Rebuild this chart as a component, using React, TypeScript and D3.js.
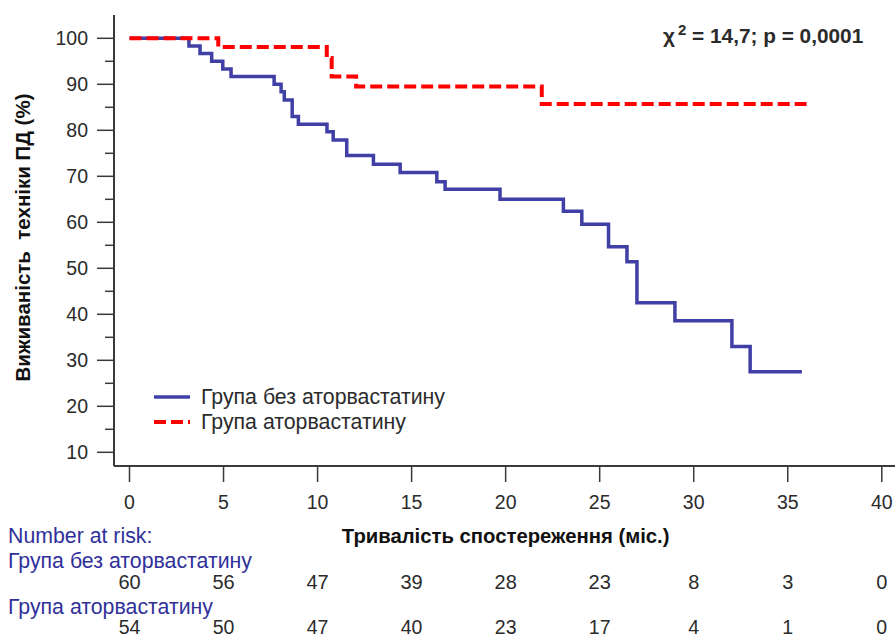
import React from 'react';
import * as d3 from 'd3';

const xTicks = [0, 5, 10, 15, 20, 25, 30, 35, 40];
const yTicks = [10, 20, 30, 40, 50, 60, 70, 80, 90, 100];
const yMinorTicks = [15, 25, 35, 45, 55, 65, 75, 85, 95];

const noAtorTimes = [0, 3.16, 3.75, 4.37, 4.96, 5.4, 7.69, 8.06, 8.23, 8.65, 8.98, 10.5, 10.83, 11.55, 12.97, 14.39, 16.34, 16.78, 19.7, 23.07, 24.05, 25.47, 26.45, 26.98, 29.0, 32.03, 33.0];
const noAtorSurv = [100, 98.3, 96.7, 95.0, 93.3, 91.7, 90.0, 88.4, 86.6, 83.0, 81.3, 79.7, 77.9, 74.5, 72.6, 70.8, 68.8, 67.2, 65.0, 62.4, 59.6, 54.7, 51.4, 42.5, 38.6, 33.0, 27.5];
const noAtorEnd = 35.75;

const atorTimes = [0, 4.72, 10.49, 10.75, 12.05, 21.92];
const atorSurv = [100, 98.1, 95.7, 91.7, 89.5, 85.7];
const atorEnd = 36.0;

const riskNoAtor = [60, 56, 47, 39, 28, 23, 8, 3, 0];
const riskAtor = [54, 50, 47, 40, 23, 17, 4, 1, 0];
const groupNames = ['Група без аторвастатину', 'Група аторвастатину'];

const W = 895;
const H = 637;
const FONT = '"Liberation Sans", Arial, sans-serif';
const BLUE = '#3f3fa6';
const RED = '#ff0000';
const AXIS = '#3a3a3a';
const TXT = '#2b2b2b';
const LABEL_BLUE = '#30309a';
const WORD = 21.3;
const NUM = 19.5;

export default function App() {
  const x = d3.scaleLinear().domain([0, 40]).range([129.5, 881.8]);
  const y = d3.scaleLinear().domain([10, 100]).range([452.3, 38.3]);
  const axisX = 114;
  const axisY = 466;

  const line = d3
    .line<[number, number]>()
    .x((d) => x(d[0]))
    .y((d) => y(d[1]))
    .curve(d3.curveStepAfter);

  const mk = (t: number[], s: number[], end: number): [number, number][] => {
    const pts: [number, number][] = t.map((tt, i) => [tt, s[i]]);
    pts.push([end, s[s.length - 1]]);
    return pts;
  };

  const bluePath = line(mk(noAtorTimes, noAtorSurv, noAtorEnd)) || '';
  const redPath = line(mk(atorTimes, atorSurv, atorEnd)) || '';

  return (
    <svg
      width={W}
      height={H}
      style={{ position: 'absolute', left: 0, top: 0, background: '#fff' }}
      fontFamily={FONT}
    >
      <rect width={W} height={H} fill="#fff" />
      {/* axes */}
      <line x1={axisX} x2={axisX} y1={15} y2={axisY} stroke={AXIS} strokeWidth={2} />
      <line x1={axisX} x2={W} y1={axisY} y2={axisY} stroke={AXIS} strokeWidth={2} />
      {yTicks.map((v) => (
        <g key={'yt' + v}>
          <line x1={97} x2={axisX} y1={y(v)} y2={y(v)} stroke={AXIS} strokeWidth={1.5} />
          <text x={88} y={y(v)} textAnchor="end" dominantBaseline="central" fontSize={NUM} fill={TXT}>
            {v}
          </text>
        </g>
      ))}
      {yMinorTicks.map((v) => (
        <line key={'ym' + v} x1={105} x2={axisX} y1={y(v)} y2={y(v)} stroke={AXIS} strokeWidth={1.5} />
      ))}
      {xTicks.map((v) => (
        <g key={'xt' + v}>
          <line x1={x(v)} x2={x(v)} y1={axisY} y2={482} stroke={AXIS} strokeWidth={1.5} />
          <text x={x(v)} y={502} textAnchor="middle" dominantBaseline="central" fontSize={NUM} fill={TXT}>
            {v}
          </text>
        </g>
      ))}

      {/* curves */}
      <path d={bluePath} fill="none" stroke={BLUE} strokeWidth={3.5} />
      <path d={redPath} fill="none" stroke={RED} strokeWidth={4} strokeDasharray="12,5" />

      {/* legend */}
      <line x1={154} x2={190} y1={397} y2={397} stroke={BLUE} strokeWidth={3.5} />
      <text x={201} y={397} dominantBaseline="central" fontSize={WORD} fill={TXT}>
        {groupNames[0]}
      </text>
      <line x1={154} x2={190} y1={422} y2={422} stroke={RED} strokeWidth={4} strokeDasharray="12,5" />
      <text x={201} y={422} dominantBaseline="central" fontSize={WORD} fill={TXT}>
        {groupNames[1]}
      </text>

      {/* chi-square */}
      <text x={663} y={43} fontSize={20.8} fontWeight="bold" fill={TXT}>
        χ
        <tspan dx={3} dy={-8} fontSize={15}>2</tspan>
        <tspan dy={8}>{'  = 14,7; p = 0,0001'}</tspan>
      </text>

      {/* y label */}
      <text
        transform={`translate(22,${237.5}) rotate(-90)`}
        textAnchor="middle"
        dominantBaseline="central"
        fontSize={20.5}
        fontWeight="bold"
        fill="#111"
        style={{ whiteSpace: 'pre' }}
      >
        {'Виживаність  техніки ПД (%)'}
      </text>

      {/* x label */}
      <text x={x(20)} y={536} textAnchor="middle" dominantBaseline="central" fontSize={20.3} fontWeight="bold" fill="#111">
        Тривалість спостереження (міс.)
      </text>

      {/* number at risk */}
      <text x={8} y={536} dominantBaseline="central" fontSize={WORD} fill={LABEL_BLUE}>
        Number at risk:
      </text>
      <text x={8} y={561} dominantBaseline="central" fontSize={WORD} fill={LABEL_BLUE}>
        {groupNames[0]}
      </text>
      {riskNoAtor.map((n, i) => (
        <text key={'r1' + i} x={x(xTicks[i])} y={582} textAnchor="middle" dominantBaseline="central" fontSize={20} fill={TXT}>
          {n}
        </text>
      ))}
      <text x={8} y={607} dominantBaseline="central" fontSize={WORD} fill={LABEL_BLUE}>
        {groupNames[1]}
      </text>
      {riskAtor.map((n, i) => (
        <text key={'r2' + i} x={x(xTicks[i])} y={626.5} textAnchor="middle" dominantBaseline="central" fontSize={19.5} fill={TXT}>
          {n}
        </text>
      ))}
    </svg>
  );
}
